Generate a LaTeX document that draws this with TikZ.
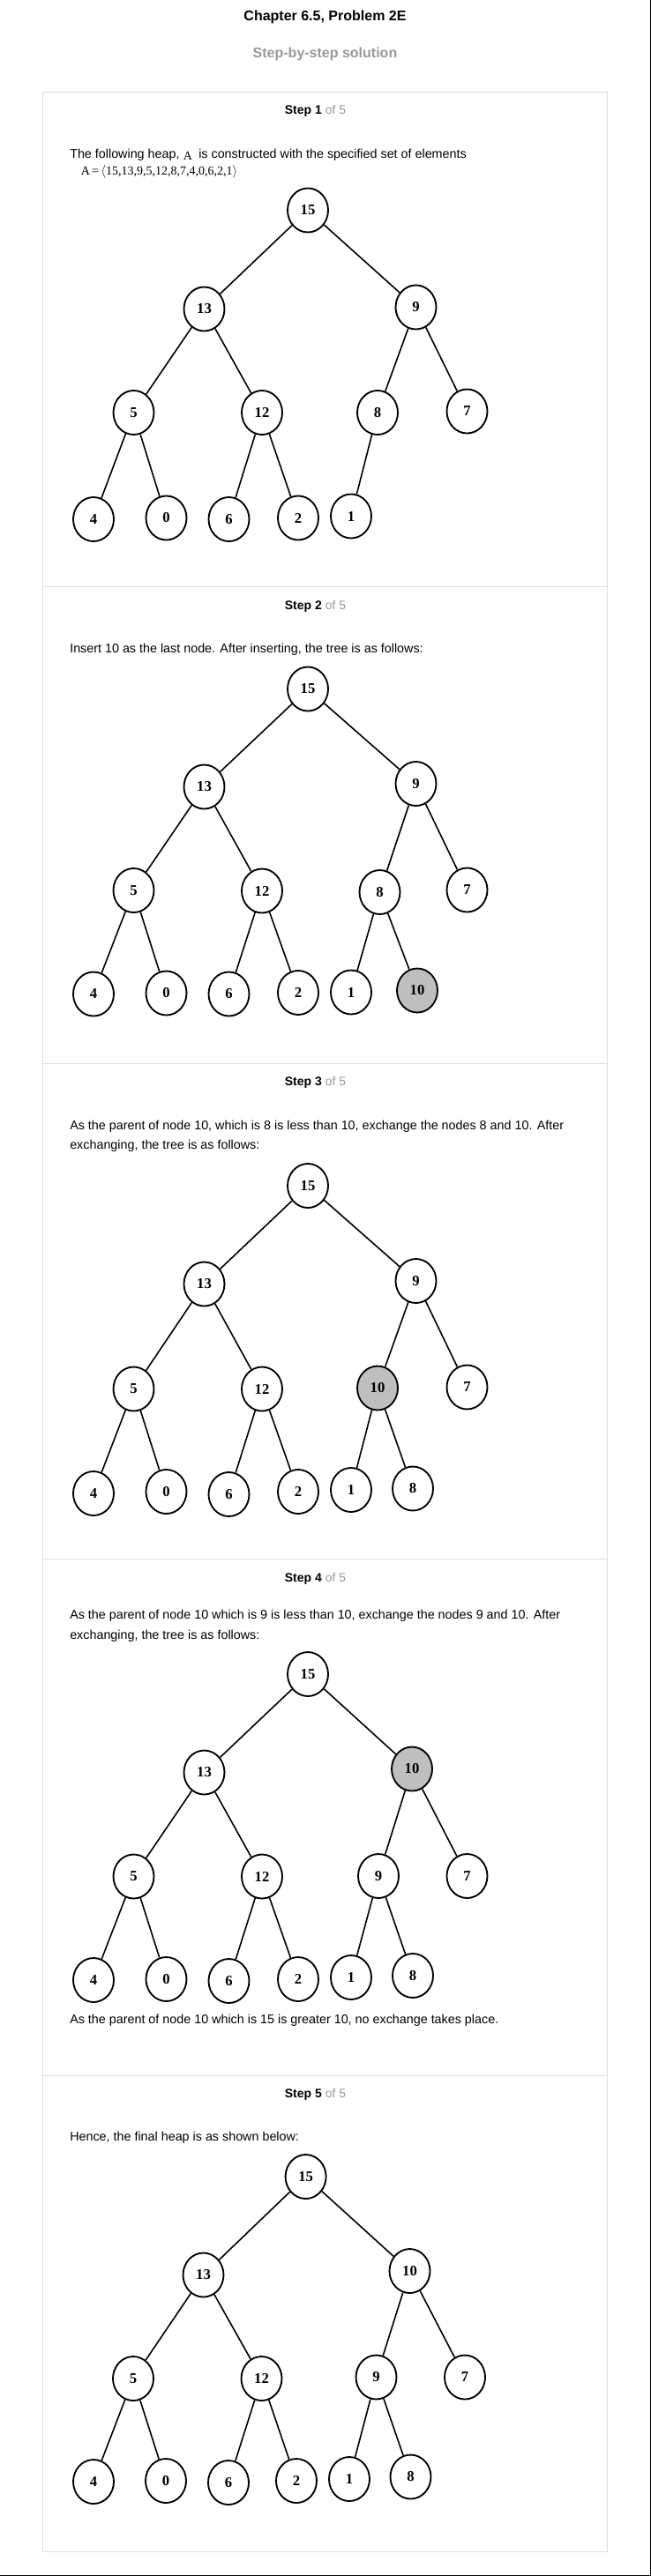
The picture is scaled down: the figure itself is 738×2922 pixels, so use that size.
\documentclass[tikz,border=0pt]{standalone}
\usepackage{fontspec}
\setmainfont{Liberation Sans}
\newfontfamily\tnr{Liberation Serif}
\usetikzlibrary{shapes.geometric}
\definecolor{cardline}{RGB}{221,221,221}
\definecolor{subgray}{RGB}{153,153,153}
\definecolor{nodefill}{RGB}{191,191,191}
\tikzset{
  hnode/.style={draw=black, line width=1.4pt, ellipse, minimum width=34.5pt, minimum height=37.5pt,
    inner sep=0pt, fill=white, font=\tnr\bfseries\fontsize{12.5pt}{12.5pt}\selectfont},
  hilite/.style={hnode, fill=nodefill},
  treeline/.style={line width=1.2pt, black},
  bodytext/.style={anchor=mid west, inner sep=0pt, font=\fontsize{10.75pt}{13pt}\selectfont},
  stephead/.style={anchor=mid, inner sep=0pt, font=\fontsize{10.5pt}{13pt}\selectfont},
  titletext/.style={anchor=mid, inner sep=0pt, font=\bfseries\fontsize{12pt}{14pt}\selectfont},
  cardrule/.style={draw=cardline, line width=0.75pt},
  edgerule/.style={draw=black, line width=1.2pt}
}
\newcommand{\stepline}[1]{{\bfseries Step #1}\space\textcolor{subgray}{of 5}}
\begin{document}
\begin{tikzpicture}[x=0.75pt, y=-0.75pt]
\useasboundingbox (0,0) rectangle (738,2922);
\fill[white] (0,0) rectangle (738,2922);
% outer edges
\coordinate (brT) at (737.3,0);
\coordinate (brB) at (737.3,2922);
\coordinate (bbL) at (0,2921.3);
\coordinate (bbR) at (738,2921.3);
\draw[edgerule] (brT) -- (brB);
\draw[edgerule] (bbL) -- (bbR);
% title
\node[titletext] (title) at (368.5,20) {Chapter 6.5, Problem 2E};
\node[titletext, text=subgray] (subtitle) at (368.5,62) {Step-by-step solution};
% card
\coordinate (cardTL) at (48.5,104.5);
\coordinate (cardBR) at (688,2894);
\draw[cardrule] (cardTL) rectangle (cardBR);
\foreach \yy [count=\i] in {665,1206.5,1768.5,2354.5}{
  \coordinate (dL\i) at (48.5,\yy);
  \coordinate (dR\i) at (688,\yy);
  \draw[cardrule] (dL\i) -- (dR\i);
}

% ---------------- Step 1
\node[stephead] (h1) at (357.5,126) {\stepline{1}};
\node[bodytext] (t1a) at (79,175.5) {The following heap,\hspace{3.2pt}\raisebox{-2.2pt}{\tnr\fontsize{10.5pt}{12pt}\selectfont A}\hspace{5.5pt}is constructed with the specified set of elements};
\node[bodytext] (t1b) at (91.5,195) {\tnr\fontsize{10.5pt}{12pt}\selectfont A\,=\,$\langle$15,13,9,5,12,8,7,4,0,6,2,1$\rangle$};
\node[hnode] (a15) at (349,238.5) {15};
\node[hnode] (a13) at (231.5,350.5) {13};
\node[hnode] (a9) at (471.5,348.5) {9};
\node[hnode] (a5) at (151.5,468) {5};
\node[hnode] (a12) at (297,468) {12};
\node[hnode] (a8) at (428,468) {8};
\node[hnode] (a7) at (529.5,466.5) {7};
\node[hnode] (a4) at (106,589) {4};
\node[hnode] (a0) at (188.5,587.5) {0};
\node[hnode] (a6) at (259.5,589) {6};
\node[hnode] (a2) at (338,587.5) {2};
\node[hnode] (a1) at (398,585.5) {1};
\foreach \p/\c in {a15/a13,a15/a9,a13/a5,a13/a12,a9/a8,a9/a7,a5/a4,a5/a0,a12/a6,a12/a2,a8/a1}
  \draw[treeline] (\p) -- (\c);

% ---------------- Step 2
\node[stephead] (h2) at (357.5,687.5) {\stepline{2}};
\node[bodytext] (t2a) at (79,737) {Insert 10 as the last node. After inserting, the tree is as follows:};
\node[hnode] (b15) at (349,781.5) {15};
\node[hnode] (b13) at (231.5,892.5) {13};
\node[hnode] (b9) at (471.5,889) {9};
\node[hnode] (b5) at (151.5,1010) {5};
\node[hnode] (b12) at (297,1010.5) {12};
\node[hnode] (b8) at (430.5,1012) {8};
\node[hnode] (b7) at (529.5,1009.5) {7};
\node[hnode] (b4) at (106,1127.5) {4};
\node[hnode] (b0) at (188.5,1126.5) {0};
\node[hnode] (b6) at (259.5,1127.5) {6};
\node[hnode] (b2) at (338,1126) {2};
\node[hnode] (b1) at (398,1125.5) {1};
\node[hilite] (b10) at (473,1123.5) {10};
\foreach \p/\c in {b15/b13,b15/b9,b13/b5,b13/b12,b9/b8,b9/b7,b5/b4,b5/b0,b12/b6,b12/b2,b8/b1,b8/b10}
  \draw[treeline] (\p) -- (\c);

% ---------------- Step 3
\node[stephead] (h3) at (357.5,1228) {\stepline{3}};
\node[bodytext] (t3a) at (79,1277.5) {As the parent of node 10, which is 8 is less than 10, exchange the nodes 8 and 10. After};
\node[bodytext] (t3b) at (79,1300) {exchanging, the tree is as follows:};
\node[hnode] (c15) at (349,1345) {15};
\node[hnode] (c13) at (231.5,1456.5) {13};
\node[hnode] (c9) at (471.5,1453) {9};
\node[hnode] (c5) at (151.5,1575.5) {5};
\node[hnode] (c12) at (297,1575.5) {12};
\node[hilite] (c10) at (428,1574.5) {10};
\node[hnode] (c7) at (529.5,1573.5) {7};
\node[hnode] (c4) at (106,1694) {4};
\node[hnode] (c0) at (188.5,1692) {0};
\node[hnode] (c6) at (259.5,1695) {6};
\node[hnode] (c2) at (338,1692) {2};
\node[hnode] (c1) at (398,1690) {1};
\node[hnode] (c8) at (468,1688.5) {8};
\foreach \p/\c in {c15/c13,c15/c9,c13/c5,c13/c12,c9/c10,c9/c7,c5/c4,c5/c0,c12/c6,c12/c2,c10/c1,c10/c8}
  \draw[treeline] (\p) -- (\c);

% ---------------- Step 4
\node[stephead] (h4) at (357.5,1791) {\stepline{4}};
\node[bodytext] (t4a) at (79,1833) {As the parent of node 10 which is 9 is less than 10, exchange the nodes 9 and 10. After};
\node[bodytext] (t4b) at (79,1856) {exchanging, the tree is as follows:};
\node[hnode] (d15) at (349,1899) {15};
\node[hnode] (d13) at (231.5,2010.5) {13};
\node[hilite] (d10) at (467,2006.5) {10};
\node[hnode] (d5) at (151.5,2128.5) {5};
\node[hnode] (d12) at (297,2128.5) {12};
\node[hnode] (d9) at (429,2128) {9};
\node[hnode] (d7) at (529.5,2128) {7};
\node[hnode] (d4) at (106,2246) {4};
\node[hnode] (d0) at (188.5,2245) {0};
\node[hnode] (d6) at (259.5,2247) {6};
\node[hnode] (d2) at (338,2245) {2};
\node[hnode] (d1) at (398,2243) {1};
\node[hnode] (d8) at (468,2241) {8};
\foreach \p/\c in {d15/d13,d15/d10,d13/d5,d13/d12,d10/d9,d10/d7,d5/d4,d5/d0,d12/d6,d12/d2,d9/d1,d9/d8}
  \draw[treeline] (\p) -- (\c);
\node[bodytext] (t4c) at (79,2291.5) {As the parent of node 10 which is 15 is greater 10, no exchange takes place.};

% ---------------- Step 5
\node[stephead] (h5) at (357.5,2376) {\stepline{5}};
\node[bodytext] (t5a) at (79,2425) {Hence, the final heap is as shown below:};
\node[hnode] (e15) at (346.6,2469) {15};
\node[hnode] (e13) at (230.5,2580.5) {13};
\node[hnode] (e10) at (464.5,2576) {10};
\node[hnode] (e5) at (151,2698) {5};
\node[hnode] (e12) at (296.5,2698) {12};
\node[hnode] (e9) at (426.5,2696.5) {9};
\node[hnode] (e7) at (527,2696.5) {7};
\node[hnode] (e4) at (106,2815) {4};
\node[hnode] (e0) at (188,2814) {0};
\node[hnode] (e6) at (259,2816) {6};
\node[hnode] (e2) at (336,2814) {2};
\node[hnode] (e1) at (396,2812) {1};
\node[hnode] (e8) at (465.5,2809.5) {8};
\foreach \p/\c in {e15/e13,e15/e10,e13/e5,e13/e12,e10/e9,e10/e7,e5/e4,e5/e0,e12/e6,e12/e2,e9/e1,e9/e8}
  \draw[treeline] (\p) -- (\c);
\end{tikzpicture}
\end{document}
